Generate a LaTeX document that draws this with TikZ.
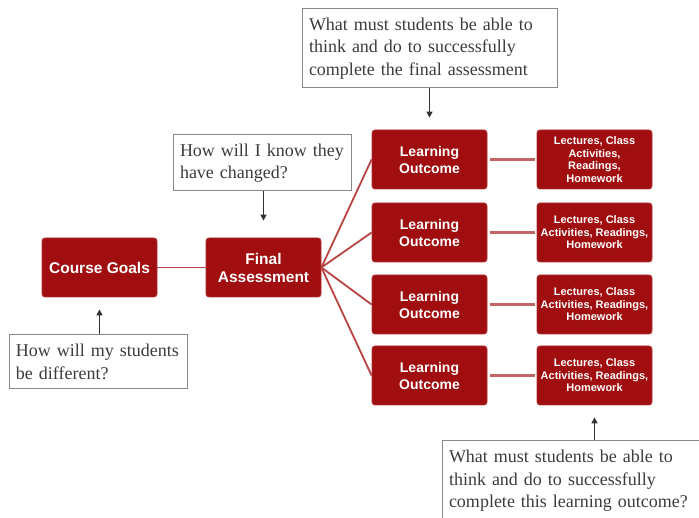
\documentclass[tikz,border=0pt]{standalone}
\usepackage{fontspec}
\setmainfont{Liberation Serif}
\setsansfont{Liberation Sans}
\usetikzlibrary{arrows.meta}
\definecolor{boxred}{RGB}{160,14,16}
\definecolor{linered}{RGB}{184,68,68}
\definecolor{linepink}{RGB}{196,100,100}
\definecolor{qgray}{RGB}{60,60,60}
\definecolor{qframe}{RGB}{135,135,135}
\definecolor{arrgray}{RGB}{50,50,50}
\begin{document}
\begin{tikzpicture}[x=1pt,y=-1pt,
  redbox/.style={fill=boxred, draw=boxred!85!white, line width=0.8pt, rounded corners=3pt,
    text=white, align=center, minimum width=115pt, minimum height=59pt, inner sep=2pt},
  bigtxt/.style={font=\sffamily\bfseries\fontsize{15.5}{18}\selectfont},
  lotxt/.style={font=\sffamily\bfseries\fontsize{14}{17}\selectfont},
  latxt/.style={font=\sffamily\bfseries\fontsize{11}{12.5}\selectfont},
  qbox/.style={draw=qframe, line width=1pt, fill=white, text=qgray,
    font=\fontsize{18}{22.5}\selectfont, align=left, inner xsep=7pt, inner ysep=2pt},
  fan/.style={draw=linered, line width=1.8pt},
  link/.style={draw=linepink, line width=2.4pt},
  qarrow/.style={draw=arrgray, line width=1.4pt, -{Triangle[length=6pt,width=6pt]}}
]
\useasboundingbox (0,0) rectangle (699,518);
\fill[white] (0,0) rectangle (699,518);

% red boxes
\node[redbox,bigtxt] (cg) at (99.5,267.5) {Course Goals};
\node[redbox,bigtxt] (fa) at (263.5,267.5) {Final\\Assessment};
\node[redbox,lotxt] (lo1) at (429.5,159.5) {Learning\\Outcome};
\node[redbox,lotxt] (lo2) at (429.5,232.5) {Learning\\Outcome};
\node[redbox,lotxt] (lo3) at (429.5,304.5) {Learning\\Outcome};
\node[redbox,lotxt] (lo4) at (429.5,375.5) {Learning\\Outcome};
\node[redbox,latxt] (la1) at (594.5,159.5) {Lectures, Class\\Activities,\\Readings,\\Homework};
\node[redbox,latxt] (la2) at (594.5,232.5) {Lectures, Class\\Activities, Readings,\\Homework};
\node[redbox,latxt] (la3) at (594.5,304.5) {Lectures, Class\\Activities, Readings,\\Homework};
\node[redbox,latxt] (la4) at (594.5,375.5) {Lectures, Class\\Activities, Readings,\\Homework};

% connectors
\draw[fan] (cg.east) -- (fa.west);
\foreach \i in {1,2,3,4}{
  \draw[fan] (fa.east) -- (lo\i.west);
  \draw[link, shorten <=3pt, shorten >=2pt] (lo\i.east) -- (la\i.west);
}

% question boxes
\node[qbox, minimum width=178pt, minimum height=56pt, text width=164pt] (q1) at (262,163)
  {How will I know they\\have changed?};
\node[qbox, minimum width=178pt, minimum height=54pt, text width=164pt] (q2) at (98,362)
  {How will my students\\be different?};
\node[qbox, minimum width=255pt, minimum height=79pt, text width=241pt] (q3) at (429.5,48.5)
  {What must students be able to\\think and do to successfully\\complete the final assessment};
\node[qbox, minimum width=258pt, minimum height=80pt, text width=244pt] (q4) at (571,481)
  {What must students be able to\\think and do to successfully\\complete this learning outcome?};

% arrows
\draw[qarrow, shorten >=17pt] (q1.south -| fa.north) -- (fa.north);
\draw[qarrow, shorten >=12pt] (q2.north -| cg.south) -- (cg.south);
\draw[qarrow, shorten >=12pt] (q3.south -| lo1.north) -- (lo1.north);
\draw[qarrow, shorten >=12pt] (q4.north -| la4.south) -- (la4.south);
\end{tikzpicture}
\end{document}
